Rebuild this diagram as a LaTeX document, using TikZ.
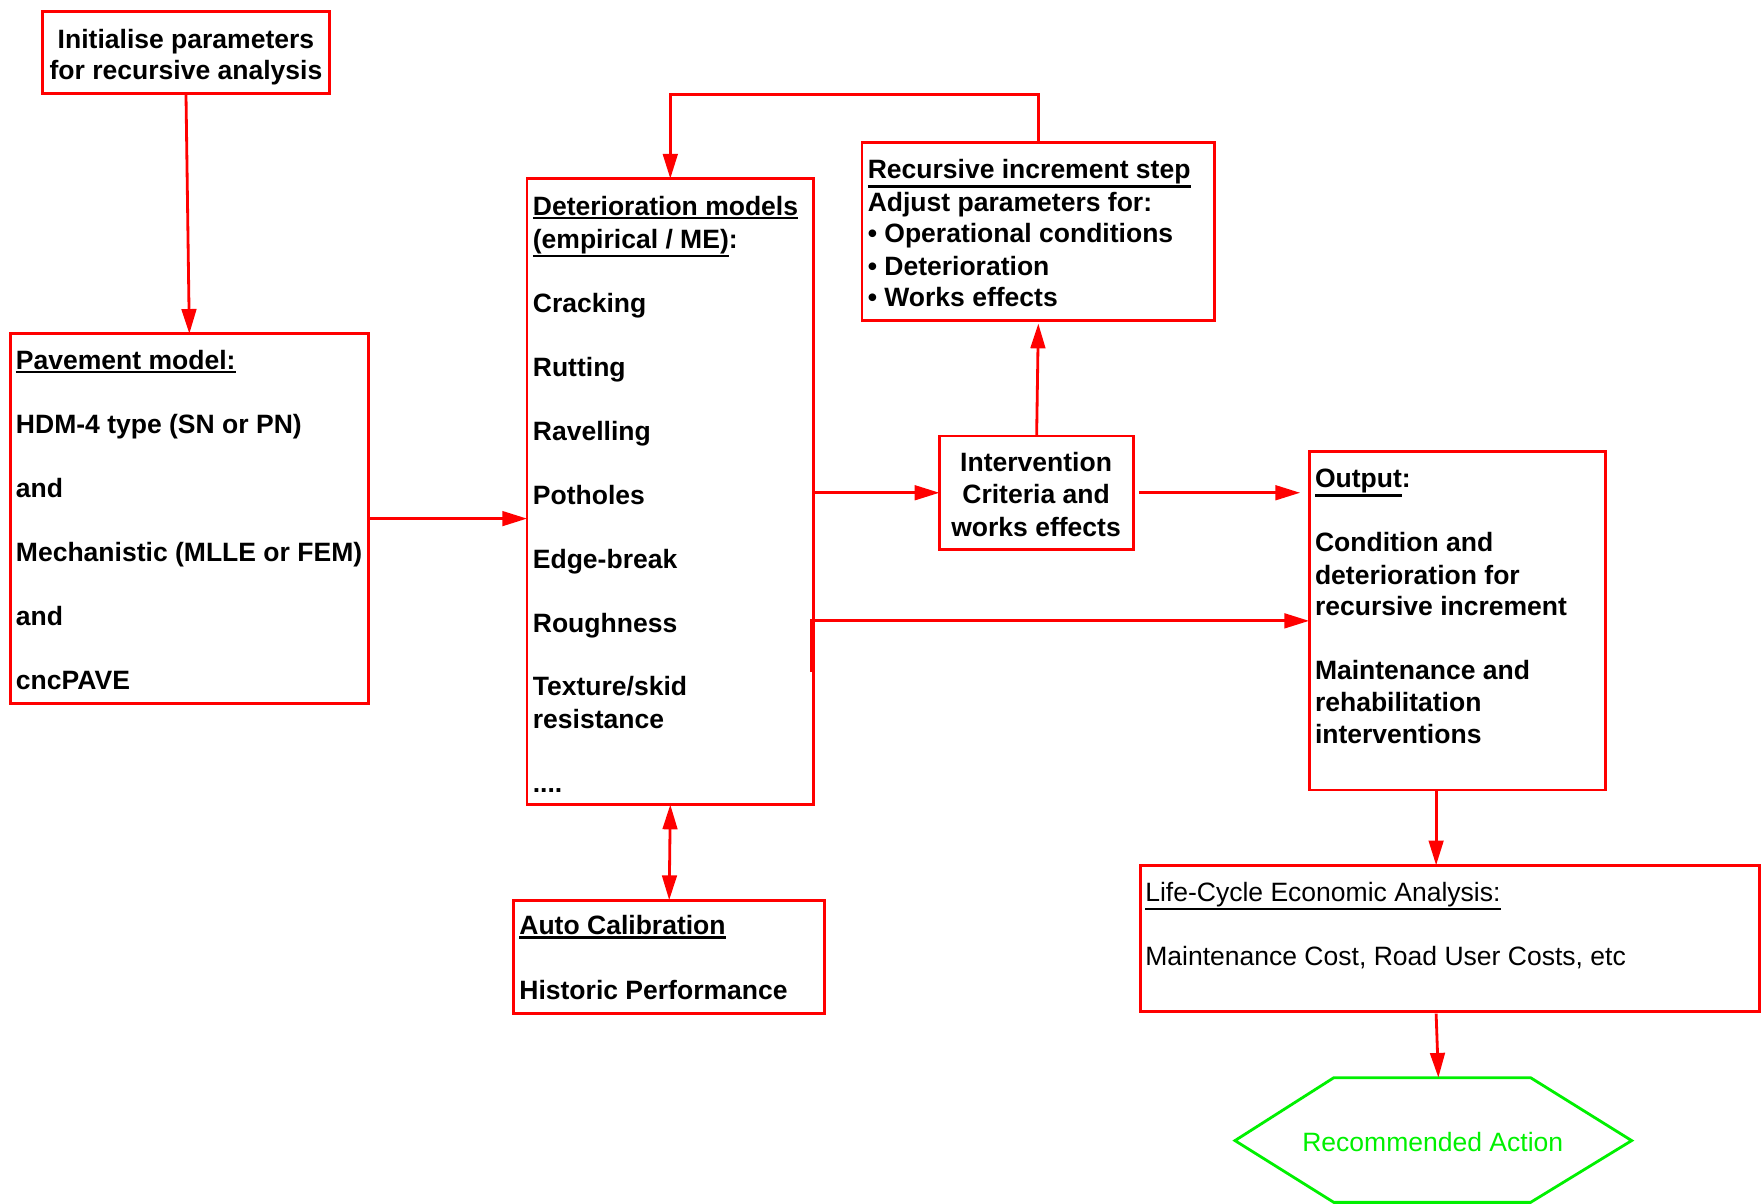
\documentclass[tikz,border=0pt]{standalone}
\usepackage{fontspec}
\setmainfont{Liberation Sans}
\usetikzlibrary{arrows.meta}

\definecolor{boxred}{RGB}{255,0,0}
\definecolor{hexgreen}{RGB}{0,240,0}

% heading underline: a solid rule just below the text's depth
\newcommand\ulx[1]{\setbox0\hbox{#1}\leavevmode\rlap{\rule[\dimexpr-\dp0-3pt\relax]{\wd0}{2pt}}\box0}

\begin{document}
\begin{tikzpicture}[x=1pt,y=-1pt,
  box/.style={draw=boxred, line width=2.5pt, inner sep=0pt, outer sep=0pt},
  txt/.style={inner sep=0pt, anchor=base west, font=\fontsize{23.6}{28.5}\selectfont\bfseries},
  ctxt/.style={txt, anchor=base},
  plain/.style={inner sep=0pt, anchor=base west, font=\fontsize{23.6}{28.5}\selectfont},
  flow/.style={draw=boxred, line width=2.5pt, -{Triangle[length=22pt,width=13pt]}},
  both/.style={draw=boxred, line width=2.5pt, {Triangle[length=22pt,width=13pt]}-{Triangle[length=22pt,width=13pt]}},
]
\useasboundingbox (0,0) rectangle (1568,1071);

% boxes
\node[box, minimum width=255pt, minimum height=73pt]  (init) at (165.5,46.5) {};
\node[box, minimum width=319pt, minimum height=329pt] (pave) at (168.5,461.5) {};
\node[box, minimum width=255pt, minimum height=557pt] (det)  at (596.5,437.5) {};
\node[box, minimum width=314pt, minimum height=158pt] (rec)  at (924,206) {};
\node[box, minimum width=173pt, minimum height=101pt] (int)  at (922.5,438.5) {};
\node[box, minimum width=264pt, minimum height=301pt] (out)  at (1297,552.5) {};
\node[box, minimum width=277pt, minimum height=101pt] (auto) at (595.5,851.5) {};
\node[box, minimum width=551pt, minimum height=130pt] (lca)  at (1290.5,835) {};

% hexagon for the final action
\coordinate (hxtl) at (1187,959);
\coordinate (hxtr) at (1362,959);
\coordinate (hxr)  at (1452,1015);
\coordinate (hxbr) at (1362,1070);
\coordinate (hxbl) at (1187,1070);
\coordinate (hxl)  at (1099,1015);
\coordinate (hxtop) at (1280,959);
\draw[draw=hexgreen, line width=2.5pt, line join=miter]
  (hxtl) -- (hxtr) -- (hxr) -- (hxbr) -- (hxbl) -- (hxl) -- cycle;
\node[plain, anchor=base, text=hexgreen] (act) at (1275,1025) {Recommended Action};

% texts
\node[ctxt] (init1) at (165.5,43) {Initialise parameters};
\node[ctxt] (init2) at (165.5,71) {for recursive analysis};

\node[txt] (pave1) at (14,329) {\ulx{Pavement model:}};
\node[txt] (pave2) at (14,386) {HDM-4 type (SN or PN)};
\node[txt] (pave3) at (14,443) {and};
\node[txt] (pave4) at (14,500) {Mechanistic (MLLE or FEM)};
\node[txt] (pave5) at (14,557) {and};
\node[txt] (pave6) at (14,614) {cncPAVE};

\node[txt] (det1)  at (474,192) {\ulx{Deterioration models}};
\node[txt] (det2)  at (474,221) {\ulx{(empirical / ME)}:};
\node[txt] (det3)  at (474,278) {Cracking};
\node[txt] (det4)  at (474,335) {Rutting};
\node[txt] (det5)  at (474,392) {Ravelling};
\node[txt] (det6)  at (474,449) {Potholes};
\node[txt] (det7)  at (474,506) {Edge-break};
\node[txt] (det8)  at (474,563) {Roughness};
\node[txt] (det9)  at (474,619) {Texture/skid};
\node[txt] (det10) at (474,648) {resistance};
\node[txt] (det11) at (474,705) {....};

\node[txt] (rec1) at (772,159) {\ulx{Recursive increment step}};
\node[txt] (rec2) at (772,188) {Adjust parameters for:};
\node[txt] (rec3) at (772,216) {• Operational conditions};
\node[txt] (rec4) at (772,245) {• Deterioration};
\node[txt] (rec5) at (772,273) {• Works effects};

\node[ctxt] (int1) at (922,420) {Intervention};
\node[ctxt] (int2) at (922,448) {Criteria and};
\node[ctxt] (int3) at (922,477) {works effects};

\node[txt] (out1) at (1170,434) {\ulx{Output}:};
\node[txt] (out2) at (1170,491) {Condition and};
\node[txt] (out3) at (1170,520) {deterioration for};
\node[txt] (out4) at (1170,548) {recursive increment};
\node[txt] (out5) at (1170,605) {Maintenance and};
\node[txt] (out6) at (1170,633) {rehabilitation};
\node[txt] (out7) at (1170,662) {interventions};

\node[txt] (auto1) at (462,832) {\ulx{Auto Calibration}};
\node[txt] (auto2) at (462,889) {Historic Performance};

\node[plain] (lca1) at (1019,802) {\ulx{Life-Cycle Economic Analysis:}};
\node[plain] (lca2) at (1019,859) {Maintenance Cost, Road User Costs, etc};

% connectors
\draw[flow] (init.south) -- (pave.north);
\draw[flow] (pave.east) -- (pave.east -| det.west);
\draw[flow] (int.west -| det.east) -- (int.west);
\draw[flow] (int.north) -- ([yshift=-3pt]rec.south);
\draw[flow] ([xshift=5pt]int.east) -- ([xshift=-8pt]int.east -| out.west);
\coordinate (dtap) at (722,598);
\draw[flow] (dtap) |- (out.west);
\draw[flow] (rec.north) |- ([yshift=75pt]det.north) -- (det.north);
\draw[both] (det.south) -- (auto.north);
\coordinate (otap) at (1278,703);
\draw[flow] (otap) -- (otap |- lca.north);
\coordinate (ltap) at (1278,902);
\draw[flow] (ltap) -- (hxtop);
\end{tikzpicture}
\end{document}
